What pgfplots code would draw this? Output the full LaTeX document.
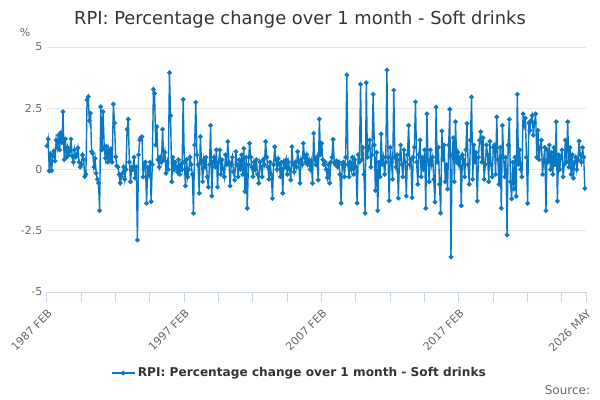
\documentclass[border=0pt]{standalone}
\usepackage{pgfplots}
\pgfplotsset{compat=1.18}
\usepackage{pgfplotstable}
\usepackage{fontspec}
\setmainfont{DejaVu Sans}
\definecolor{ser}{HTML}{0A78C2}
\definecolor{gridc}{HTML}{E6E6E6}
\definecolor{axisc}{HTML}{CCD6EB}
\definecolor{lbl}{HTML}{666666}
\definecolor{ttl}{HTML}{333333}
\pgfplotstableread[row sep=\\]{
v\\
0.96\\ 1.24\\ -0.06\\ 0.65\\ -0.05\\ 0.55\\ 0.75\\ 0.35\\ 1.2\\ 0.9\\
1.4\\ 0.8\\ 1.5\\ 1.1\\ 2.36\\ 0.4\\ 1.25\\ 0.5\\ 0.9\\ 0.6\\
0.75\\ 1.24\\ 0.55\\ 0.3\\ 0.8\\ 0.5\\ 0.6\\ 0.88\\ 0.3\\ 0.1\\
0.2\\ 0.59\\ 0.4\\ -0.29\\ -0.2\\ 2.84\\ 2.97\\ 2.0\\ 2.3\\ 0.73\\
0.65\\ 0.1\\ 0.45\\ -0.15\\ -0.4\\ -0.55\\ -1.68\\ 2.56\\ 0.8\\ 2.36\\
0.9\\ 0.46\\ 0.95\\ 0.3\\ 0.8\\ 0.4\\ 0.85\\ 0.3\\ 2.67\\ 1.9\\
0.52\\ 0.15\\ 0.1\\ -0.2\\ -0.55\\ -0.3\\ -0.15\\ 0.1\\ -0.4\\ 0.0\\
1.64\\ 2.05\\ 0.3\\ -0.5\\ 0.1\\ 0.0\\ 0.5\\ -0.35\\ 0.1\\ -2.88\\
0.6\\ 1.2\\ 1.3\\ 1.34\\ -0.3\\ 0.2\\ 0.3\\ -1.38\\ 0.1\\ -0.2\\
0.3\\ -1.31\\ 0.2\\ 3.27\\ 3.1\\ 1.0\\ 1.75\\ 0.4\\ 0.1\\ 0.5\\
0.3\\ 1.64\\ 0.4\\ 0.7\\ -0.15\\ 0.3\\ 0.0\\ 3.95\\ 2.2\\ -0.5\\
0.5\\ 0.0\\ 0.3\\ 0.1\\ -0.1\\ 0.4\\ -0.2\\ 0.2\\ 0.0\\ 2.86\\
0.3\\ -0.67\\ 0.4\\ -0.3\\ 0.0\\ 0.5\\ 0.2\\ -0.2\\ -1.79\\ 1.0\\
2.74\\ 0.6\\ 0.2\\ -0.97\\ 1.34\\ 0.3\\ -0.5\\ 0.4\\ 0.1\\ 0.5\\
-0.3\\ -0.72\\ 0.2\\ 1.8\\ -1.08\\ 0.3\\ 0.5\\ 0.1\\ 0.8\\ -0.72\\
0.3\\ 0.8\\ -0.2\\ 0.4\\ 0.0\\ -0.3\\ 0.6\\ 0.2\\ 1.14\\ 0.3\\
-0.67\\ 0.2\\ 0.5\\ -0.1\\ -0.43\\ 0.73\\ 0.2\\ -0.3\\ 0.4\\ 0.0\\
0.6\\ -0.2\\ 0.86\\ -0.9\\ 0.5\\ -1.58\\ 0.2\\ 1.07\\ 0.5\\ 0.1\\
-0.29\\ 0.3\\ 0.0\\ 0.4\\ -0.2\\ -0.56\\ 0.3\\ 0.1\\ -0.3\\ 0.4\\
0.2\\ 1.14\\ 0.5\\ 0.1\\ -0.4\\ 0.3\\ -0.2\\ -1.18\\ 0.2\\ 0.93\\
0.4\\ 0.0\\ 0.44\\ 0.2\\ -0.3\\ 0.3\\ -0.97\\ 0.3\\ 0.1\\ 0.4\\
-0.2\\ 0.3\\ 0.0\\ -0.43\\ 0.93\\ 0.2\\ -0.1\\ 0.3\\ 0.1\\ 0.73\\
0.3\\ -0.56\\ 0.4\\ 0.2\\ 1.07\\ 0.5\\ 0.3\\ 0.6\\ 0.2\\ 0.4\\
0.0\\ 0.3\\ -0.56\\ 1.48\\ 0.4\\ 0.2\\ 0.5\\ -0.43\\ 2.06\\ 0.6\\
1.07\\ 0.4\\ 0.2\\ 0.3\\ 0.0\\ -0.33\\ 0.2\\ -0.56\\ 0.3\\ 0.5\\
1.23\\ 0.3\\ 0.2\\ 0.35\\ 0.1\\ 0.3\\ -0.2\\ -1.37\\ 0.2\\ 0.3\\
-0.3\\ 0.5\\ 3.86\\ 0.2\\ -0.3\\ 0.3\\ 0.0\\ 0.5\\ -0.2\\ 0.4\\
0.1\\ -1.37\\ 0.6\\ 0.3\\ 3.48\\ 0.4\\ 0.9\\ -0.2\\ -1.78\\ 3.54\\
0.5\\ 0.9\\ 1.2\\ 0.1\\ 0.6\\ 3.07\\ 1.0\\ -0.86\\ 0.7\\ -1.68\\
0.3\\ -0.3\\ 1.45\\ 0.2\\ 0.5\\ -0.2\\ 0.3\\ 4.06\\ 0.5\\ -1.27\\
0.9\\ 0.3\\ -0.4\\ 3.24\\ 0.5\\ 0.1\\ 0.6\\ -1.17\\ 0.4\\ 1.0\\
0.2\\ -0.3\\ 0.8\\ 0.3\\ -1.08\\ 0.6\\ 1.8\\ 0.2\\ 0.4\\ -1.15\\
0.5\\ 0.9\\ 2.76\\ 0.3\\ -0.6\\ 0.6\\ 1.2\\ -0.3\\ 0.5\\ 0.0\\
0.8\\ -1.58\\ 2.27\\ 0.4\\ -0.5\\ 0.8\\ 0.2\\ 0.5\\ -0.4\\ -1.33\\
2.55\\ 0.3\\ 0.9\\ -0.6\\ -1.78\\ 1.57\\ 0.4\\ 1.0\\ -0.5\\ 0.2\\
-0.8\\ 1.0\\ 2.46\\ -3.57\\ 0.6\\ 1.3\\ -0.5\\ 1.95\\ 0.3\\ 0.7\\
0.2\\ 0.5\\ -1.48\\ 0.6\\ 0.4\\ -0.3\\ 0.8\\ 1.88\\ 0.2\\ -0.6\\
1.2\\ 2.96\\ -0.4\\ 1.0\\ 0.3\\ 0.7\\ -1.29\\ 0.5\\ 1.2\\ 1.54\\
0.3\\ 1.3\\ -0.4\\ 0.2\\ 1.0\\ 0.6\\ -0.5\\ 1.15\\ 0.2\\ -0.3\\
0.9\\ 1.0\\ -0.2\\ 2.14\\ 0.4\\ -0.6\\ 0.9\\ -1.58\\ 1.8\\ 0.5\\
-0.3\\ 0.5\\ -2.67\\ 1.0\\ 2.05\\ -0.5\\ -1.2\\ 0.3\\ -0.8\\ 0.5\\
-1.1\\ 3.07\\ 0.2\\ 0.8\\ 0.0\\ -0.3\\ 2.27\\ 1.8\\ 2.1\\ 0.5\\
-1.38\\ 1.9\\ 1.6\\ 2.0\\ 2.2\\ 1.4\\ 1.9\\ 2.27\\ 0.5\\ 1.6\\
0.4\\ 0.9\\ 1.2\\ -0.2\\ 0.4\\ 0.9\\ -1.68\\ 0.8\\ 0.3\\ 1.0\\
0.0\\ 0.7\\ -0.2\\ 0.9\\ 0.2\\ 1.95\\ -1.29\\ 0.6\\ 0.0\\ 0.5\\
0.8\\ -0.3\\ 0.2\\ 1.2\\ 0.3\\ 1.95\\ 0.1\\ 0.9\\ -0.2\\ 0.6\\
-0.35\\ 0.3\\ 0.5\\ 0.0\\ 0.4\\ 1.16\\ 0.6\\ 0.3\\ 0.9\\ 0.5\\ -0.77\\
}\softdrinks
\begin{document}
\begin{tikzpicture}[x=1pt,y=1pt]
\path[use as bounding box] (-35.25,-81) rectangle (414.75,219);
\begin{axis}[
  at={(0,0)}, anchor=south west, scale only axis,
  width=404.25pt, height=183.75pt,
  xmin=0, xmax=471, ymin=-5, ymax=5,
  axis x line*=bottom, axis y line*=left,
  x axis line style={draw=axisc, line width=0.75pt},
  y axis line style={draw=none},
  ytick={-5,-2.5,0,2.5,5},
  yticklabels={-5,-2.5,0,2.5,5},
  ymajorgrids, grid style={draw=gridc, line width=0.75pt},
  ytick style={draw=none},
  xtick={0,120,240,360,471},
  xticklabels={1987 FEB,1997 FEB,2007 FEB,2017 FEB,2026 MAY},
  minor xtick={30,60,90,150,180,210,270,300,330,390,420,450},
  xtick align=outside, major tick length=7.5pt, minor tick length=7.5pt,
  xtick style={draw=axisc, line width=0.75pt},
  minor x tick style={draw=axisc, line width=0.75pt},
  yticklabel style={font=\fontsize{8.25}{10}\selectfont, text=lbl},
  xticklabel style={rotate=45, anchor=north east, font=\fontsize{8.25}{10}\selectfont, text=lbl},
  legend style={at={(0.469,-0.331)}, anchor=center, draw=none, fill=none,
    font=\bfseries\fontsize{9.1}{11}\selectfont, text=ttl},
  legend cell align=left,
  clip=false,
]
\addplot[color=ser, line width=1.05pt, mark=*, mark size=1.2pt] table [x expr=\coordindex, y=v] {\softdrinks};
\addlegendentry{RPI: Percentage change over 1 month - Soft drinks}
\end{axis}
\node[font=\fontsize{13.4}{16}\selectfont, text=ttl] at (189.75,204) {RPI: Percentage change over 1 month - Soft drinks};
\node[font=\fontsize{8.25}{10}\selectfont, text=lbl] at (-16.5,195) {\%};
\node[font=\fontsize{9}{11}\selectfont, text=lbl, anchor=east, inner sep=0pt] at (407.5,-73.5) {Source:};
\end{tikzpicture}
\end{document}
